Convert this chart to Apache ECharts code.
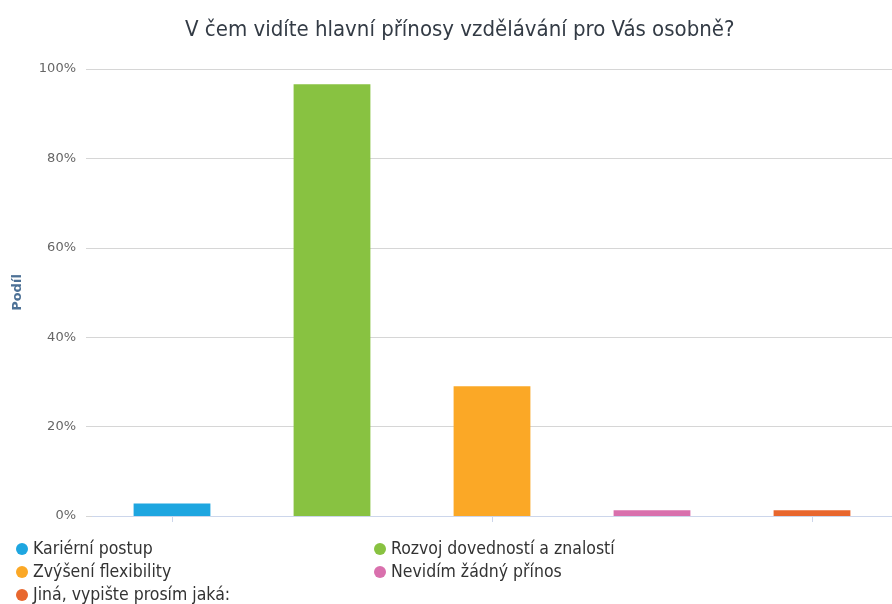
<!DOCTYPE html>
<html>
<head>
<meta charset="utf-8">
<title>V čem vidíte hlavní přínosy vzdělávání pro Vás osobně?</title>
<script src="https://cdn.jsdelivr.net/npm/echarts@6/dist/echarts.min.js"></script>
<style>
  html, body { margin: 0; padding: 0; background: #ffffff; }
  #chart { width: 892px; height: 604px; }
</style>
</head>
<body>
<div id="chart"></div>
<script>
// Answer options, shares in percent, and their colours
const categories = [
  'Kariérní postup',
  'Rozvoj dovedností a znalostí',
  'Zvýšení flexibility',
  'Nevidím žádný přínos',
  'Jiná, vypište prosím jaká:'
];
const shares = [2.8, 96.6, 29.0, 1.3, 1.3];
const colors = ['#1ea6e0', '#88c241', '#fba826', '#d970ad', '#e8672e'];
const yTicks = [0, 20, 40, 60, 80, 100];

// Legend grid under the plot: [column, row] per answer
const legendSlots = [[0, 0], [1, 0], [0, 1], [1, 1], [0, 2]];

const chart = echarts.init(document.getElementById('chart'), null, { renderer: 'canvas' });

// One stacked series per answer so each bar gets its own legend entry
const series = categories.map((name, i) => ({
  name: name,
  type: 'bar',
  stack: 'answers',
  barWidth: '48%',
  itemStyle: { color: colors[i] },
  emphasis: { disabled: true },
  data: categories.map((c, j) => (j === i ? shares[i] : '-'))
}));

const legendText = {
  color: '#333333',
  fontSize: 17.5,
  padding: [0, 0, 0, 0],
  fontFamily: 'DejaVu Sans Condensed, DejaVu Sans, sans-serif'
};

const legends = categories.map((name, i) => ({
  data: [name],
  left: 16 + legendSlots[i][0] * 358,
  top: 540 + legendSlots[i][1] * 23,
  padding: 0,
  icon: 'circle',
  itemWidth: 12,
  itemHeight: 12,
  itemGap: 0,
  textStyle: legendText
}));

chart.setOption({
  animation: false,
  color: colors,
  title: {
    text: 'V čem vidíte hlavní přínosy vzdělávání pro Vás osobně?',
    left: 180,
    top: 14,
    textStyle: {
      color: '#333b45',
      fontSize: 22,
      fontWeight: 'normal',
      fontFamily: 'DejaVu Sans Condensed, DejaVu Sans, sans-serif'
    }
  },
  legend: legends,
  grid: {
    left: 92,
    right: 0,
    top: 69,
    bottom: 88,
    containLabel: false
  },
  xAxis: {
    type: 'category',
    data: categories,
    axisLine: { lineStyle: { color: '#ccd6eb', width: 1 } },
    axisTick: { show: true, alignWithLabel: true, length: 6, lineStyle: { color: '#ccd6eb' } },
    axisLabel: { show: false },
    splitLine: { show: false }
  },
  yAxis: {
    type: 'value',
    min: yTicks[0],
    max: yTicks[yTicks.length - 1],
    interval: yTicks[1] - yTicks[0],
    name: 'Podíl',
    nameLocation: 'middle',
    nameRotate: 90,
    nameGap: 68,
    nameTextStyle: {
      color: '#4d7196',
      fontSize: 13,
      fontWeight: 'bold',
      fontFamily: 'DejaVu Sans, sans-serif'
    },
    axisLine: { show: false },
    axisTick: { show: true, length: 6, lineStyle: { color: '#d6d6d6' } },
    axisLabel: {
      formatter: '{value}%',
      color: '#666666',
      fontSize: 13,
      margin: 16,
      fontFamily: 'DejaVu Sans, sans-serif'
    },
    splitLine: { show: true, lineStyle: { color: '#d6d6d6', width: 1 } }
  },
  series: series
});
</script>
</body>
</html>
